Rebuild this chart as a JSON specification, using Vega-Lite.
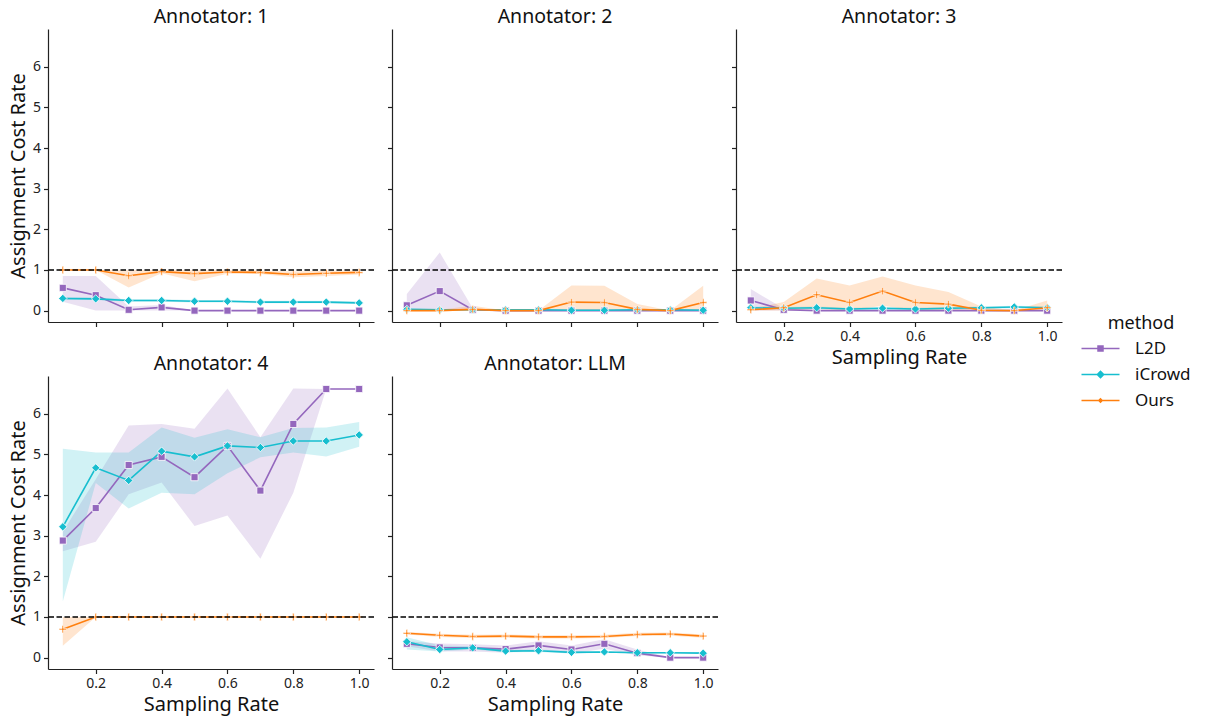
{
"$schema": "https://vega.github.io/schema/vega-lite/v6.json",
"padding": {"left": 8, "top": 6, "right": 5, "bottom": 5},
"background": "white",
"datasets": {
"d": [
{"a":"1","m":"L2D","x":0.1,"y":0.56,"lo":0.22,"hi":0.85},
{"a":"1","m":"L2D","x":0.2,"y":0.38,"lo":0,"hi":0.85},
{"a":"1","m":"L2D","x":0.3,"y":0.02,"lo":0,"hi":0.1},
{"a":"1","m":"L2D","x":0.4,"y":0.08,"lo":0,"hi":0.14},
{"a":"1","m":"L2D","x":0.5,"y":0,"lo":0,"hi":0},
{"a":"1","m":"L2D","x":0.6,"y":0,"lo":0,"hi":0},
{"a":"1","m":"L2D","x":0.7,"y":0,"lo":0,"hi":0},
{"a":"1","m":"L2D","x":0.8,"y":0,"lo":0,"hi":0},
{"a":"1","m":"L2D","x":0.9,"y":0,"lo":0,"hi":0},
{"a":"1","m":"L2D","x":1.0,"y":0,"lo":0,"hi":0},
{"a":"1","m":"iCrowd","x":0.1,"y":0.30,"lo":0.27,"hi":0.33},
{"a":"1","m":"iCrowd","x":0.2,"y":0.29,"lo":0.26,"hi":0.32},
{"a":"1","m":"iCrowd","x":0.3,"y":0.25,"lo":0.22,"hi":0.28},
{"a":"1","m":"iCrowd","x":0.4,"y":0.25,"lo":0.22,"hi":0.28},
{"a":"1","m":"iCrowd","x":0.5,"y":0.23,"lo":0.20,"hi":0.26},
{"a":"1","m":"iCrowd","x":0.6,"y":0.23,"lo":0.20,"hi":0.26},
{"a":"1","m":"iCrowd","x":0.7,"y":0.21,"lo":0.18,"hi":0.24},
{"a":"1","m":"iCrowd","x":0.8,"y":0.21,"lo":0.18,"hi":0.24},
{"a":"1","m":"iCrowd","x":0.9,"y":0.21,"lo":0.18,"hi":0.24},
{"a":"1","m":"iCrowd","x":1.0,"y":0.19,"lo":0.16,"hi":0.22},
{"a":"1","m":"Ours","x":0.1,"y":1.0,"lo":1.0,"hi":1.0},
{"a":"1","m":"Ours","x":0.2,"y":1.0,"lo":1.0,"hi":1.0},
{"a":"1","m":"Ours","x":0.3,"y":0.86,"lo":0.57,"hi":1.0},
{"a":"1","m":"Ours","x":0.4,"y":0.96,"lo":0.92,"hi":1.0},
{"a":"1","m":"Ours","x":0.5,"y":0.91,"lo":0.72,"hi":1.0},
{"a":"1","m":"Ours","x":0.6,"y":0.95,"lo":0.91,"hi":1.0},
{"a":"1","m":"Ours","x":0.7,"y":0.94,"lo":0.90,"hi":0.98},
{"a":"1","m":"Ours","x":0.8,"y":0.89,"lo":0.82,"hi":0.96},
{"a":"1","m":"Ours","x":0.9,"y":0.92,"lo":0.85,"hi":0.98},
{"a":"1","m":"Ours","x":1.0,"y":0.94,"lo":0.89,"hi":0.99},
{"a":"2","m":"L2D","x":0.1,"y":0.13,"lo":0,"hi":0.41},
{"a":"2","m":"L2D","x":0.2,"y":0.48,"lo":0,"hi":1.43},
{"a":"2","m":"L2D","x":0.3,"y":0.02,"lo":0,"hi":0.06},
{"a":"2","m":"L2D","x":0.4,"y":0,"lo":0,"hi":0},
{"a":"2","m":"L2D","x":0.5,"y":0,"lo":0,"hi":0},
{"a":"2","m":"L2D","x":0.6,"y":0,"lo":0,"hi":0},
{"a":"2","m":"L2D","x":0.7,"y":0,"lo":0,"hi":0},
{"a":"2","m":"L2D","x":0.8,"y":0,"lo":0,"hi":0},
{"a":"2","m":"L2D","x":0.9,"y":0,"lo":0,"hi":0},
{"a":"2","m":"L2D","x":1.0,"y":0,"lo":0,"hi":0},
{"a":"2","m":"iCrowd","x":0.1,"y":0.03,"lo":0.01,"hi":0.05},
{"a":"2","m":"iCrowd","x":0.2,"y":0.02,"lo":0,"hi":0.04},
{"a":"2","m":"iCrowd","x":0.3,"y":0.02,"lo":0,"hi":0.04},
{"a":"2","m":"iCrowd","x":0.4,"y":0.02,"lo":0,"hi":0.04},
{"a":"2","m":"iCrowd","x":0.5,"y":0.02,"lo":0,"hi":0.04},
{"a":"2","m":"iCrowd","x":0.6,"y":0.01,"lo":0,"hi":0.03},
{"a":"2","m":"iCrowd","x":0.7,"y":0.01,"lo":0,"hi":0.03},
{"a":"2","m":"iCrowd","x":0.8,"y":0.02,"lo":0,"hi":0.04},
{"a":"2","m":"iCrowd","x":0.9,"y":0.02,"lo":0,"hi":0.04},
{"a":"2","m":"iCrowd","x":1.0,"y":0.01,"lo":0,"hi":0.03},
{"a":"2","m":"Ours","x":0.1,"y":0,"lo":0,"hi":0.02},
{"a":"2","m":"Ours","x":0.2,"y":0,"lo":0,"hi":0.02},
{"a":"2","m":"Ours","x":0.3,"y":0.03,"lo":0,"hi":0.12},
{"a":"2","m":"Ours","x":0.4,"y":0,"lo":0,"hi":0},
{"a":"2","m":"Ours","x":0.5,"y":0,"lo":0,"hi":0},
{"a":"2","m":"Ours","x":0.6,"y":0.21,"lo":0,"hi":0.62},
{"a":"2","m":"Ours","x":0.7,"y":0.2,"lo":0,"hi":0.61},
{"a":"2","m":"Ours","x":0.8,"y":0.03,"lo":0,"hi":0.16},
{"a":"2","m":"Ours","x":0.9,"y":0,"lo":0,"hi":0},
{"a":"2","m":"Ours","x":1.0,"y":0.2,"lo":0,"hi":0.61},
{"a":"3","m":"L2D","x":0.1,"y":0.25,"lo":0,"hi":0.53},
{"a":"3","m":"L2D","x":0.2,"y":0.02,"lo":0,"hi":0.05},
{"a":"3","m":"L2D","x":0.3,"y":0,"lo":0,"hi":0},
{"a":"3","m":"L2D","x":0.4,"y":0,"lo":0,"hi":0},
{"a":"3","m":"L2D","x":0.5,"y":0,"lo":0,"hi":0},
{"a":"3","m":"L2D","x":0.6,"y":0,"lo":0,"hi":0},
{"a":"3","m":"L2D","x":0.7,"y":0,"lo":0,"hi":0},
{"a":"3","m":"L2D","x":0.8,"y":0,"lo":0,"hi":0},
{"a":"3","m":"L2D","x":0.9,"y":0,"lo":0,"hi":0},
{"a":"3","m":"L2D","x":1.0,"y":0,"lo":0,"hi":0},
{"a":"3","m":"iCrowd","x":0.1,"y":0.07,"lo":0.04,"hi":0.1},
{"a":"3","m":"iCrowd","x":0.2,"y":0.06,"lo":0.03,"hi":0.09},
{"a":"3","m":"iCrowd","x":0.3,"y":0.07,"lo":0.04,"hi":0.1},
{"a":"3","m":"iCrowd","x":0.4,"y":0.04,"lo":0.01,"hi":0.07},
{"a":"3","m":"iCrowd","x":0.5,"y":0.06,"lo":0.03,"hi":0.09},
{"a":"3","m":"iCrowd","x":0.6,"y":0.04,"lo":0.01,"hi":0.07},
{"a":"3","m":"iCrowd","x":0.7,"y":0.06,"lo":0.03,"hi":0.09},
{"a":"3","m":"iCrowd","x":0.8,"y":0.07,"lo":0.04,"hi":0.1},
{"a":"3","m":"iCrowd","x":0.9,"y":0.09,"lo":0.06,"hi":0.12},
{"a":"3","m":"iCrowd","x":1.0,"y":0.07,"lo":0.04,"hi":0.1},
{"a":"3","m":"Ours","x":0.1,"y":0.02,"lo":0,"hi":0.05},
{"a":"3","m":"Ours","x":0.2,"y":0.07,"lo":0,"hi":0.21},
{"a":"3","m":"Ours","x":0.3,"y":0.39,"lo":0.04,"hi":0.79},
{"a":"3","m":"Ours","x":0.4,"y":0.2,"lo":0,"hi":0.62},
{"a":"3","m":"Ours","x":0.5,"y":0.48,"lo":0.12,"hi":0.84},
{"a":"3","m":"Ours","x":0.6,"y":0.2,"lo":0,"hi":0.62},
{"a":"3","m":"Ours","x":0.7,"y":0.16,"lo":0,"hi":0.46},
{"a":"3","m":"Ours","x":0.8,"y":0.01,"lo":0,"hi":0.1},
{"a":"3","m":"Ours","x":0.9,"y":0,"lo":0,"hi":0},
{"a":"3","m":"Ours","x":1.0,"y":0.07,"lo":0,"hi":0.25},
{"a":"4","m":"L2D","x":0.1,"y":2.88,"lo":2.62,"hi":3.1},
{"a":"4","m":"L2D","x":0.2,"y":3.68,"lo":2.85,"hi":4.39},
{"a":"4","m":"L2D","x":0.3,"y":4.74,"lo":4.02,"hi":5.71},
{"a":"4","m":"L2D","x":0.4,"y":4.94,"lo":4.31,"hi":5.75},
{"a":"4","m":"L2D","x":0.5,"y":4.44,"lo":3.24,"hi":5.63},
{"a":"4","m":"L2D","x":0.6,"y":5.21,"lo":3.5,"hi":6.62},
{"a":"4","m":"L2D","x":0.7,"y":4.11,"lo":2.43,"hi":5.42},
{"a":"4","m":"L2D","x":0.8,"y":5.75,"lo":4.06,"hi":6.62},
{"a":"4","m":"L2D","x":0.9,"y":6.61,"lo":6.61,"hi":6.61},
{"a":"4","m":"L2D","x":1.0,"y":6.61,"lo":6.61,"hi":6.61},
{"a":"4","m":"iCrowd","x":0.1,"y":3.22,"lo":1.38,"hi":5.14},
{"a":"4","m":"iCrowd","x":0.2,"y":4.67,"lo":4.3,"hi":5.05},
{"a":"4","m":"iCrowd","x":0.3,"y":4.36,"lo":3.67,"hi":5.05},
{"a":"4","m":"iCrowd","x":0.4,"y":5.08,"lo":4.06,"hi":5.66},
{"a":"4","m":"iCrowd","x":0.5,"y":4.94,"lo":4.02,"hi":5.41},
{"a":"4","m":"iCrowd","x":0.6,"y":5.21,"lo":4.54,"hi":5.62},
{"a":"4","m":"iCrowd","x":0.7,"y":5.17,"lo":4.93,"hi":5.42},
{"a":"4","m":"iCrowd","x":0.8,"y":5.33,"lo":5.05,"hi":5.65},
{"a":"4","m":"iCrowd","x":0.9,"y":5.33,"lo":4.95,"hi":5.66},
{"a":"4","m":"iCrowd","x":1.0,"y":5.48,"lo":5.19,"hi":5.8},
{"a":"4","m":"Ours","x":0.1,"y":0.7,"lo":0.29,"hi":1.0},
{"a":"4","m":"Ours","x":0.2,"y":1.0,"lo":1.0,"hi":1.0},
{"a":"4","m":"Ours","x":0.3,"y":1.0,"lo":1.0,"hi":1.0},
{"a":"4","m":"Ours","x":0.4,"y":1.0,"lo":1.0,"hi":1.0},
{"a":"4","m":"Ours","x":0.5,"y":1.0,"lo":1.0,"hi":1.0},
{"a":"4","m":"Ours","x":0.6,"y":1.0,"lo":1.0,"hi":1.0},
{"a":"4","m":"Ours","x":0.7,"y":1.0,"lo":1.0,"hi":1.0},
{"a":"4","m":"Ours","x":0.8,"y":1.0,"lo":1.0,"hi":1.0},
{"a":"4","m":"Ours","x":0.9,"y":1.0,"lo":1.0,"hi":1.0},
{"a":"4","m":"Ours","x":1.0,"y":1.0,"lo":1.0,"hi":1.0},
{"a":"LLM","m":"L2D","x":0.1,"y":0.34,"lo":0.28,"hi":0.4},
{"a":"LLM","m":"L2D","x":0.2,"y":0.25,"lo":0.15,"hi":0.35},
{"a":"LLM","m":"L2D","x":0.3,"y":0.24,"lo":0.15,"hi":0.33},
{"a":"LLM","m":"L2D","x":0.4,"y":0.21,"lo":0.12,"hi":0.3},
{"a":"LLM","m":"L2D","x":0.5,"y":0.3,"lo":0.2,"hi":0.4},
{"a":"LLM","m":"L2D","x":0.6,"y":0.2,"lo":0.1,"hi":0.3},
{"a":"LLM","m":"L2D","x":0.7,"y":0.34,"lo":0.22,"hi":0.45},
{"a":"LLM","m":"L2D","x":0.8,"y":0.11,"lo":0.05,"hi":0.2},
{"a":"LLM","m":"L2D","x":0.9,"y":0,"lo":0,"hi":0},
{"a":"LLM","m":"L2D","x":1.0,"y":0,"lo":0,"hi":0},
{"a":"LLM","m":"iCrowd","x":0.1,"y":0.39,"lo":0.2,"hi":0.5},
{"a":"LLM","m":"iCrowd","x":0.2,"y":0.2,"lo":0.15,"hi":0.3},
{"a":"LLM","m":"iCrowd","x":0.3,"y":0.24,"lo":0.2,"hi":0.28},
{"a":"LLM","m":"iCrowd","x":0.4,"y":0.16,"lo":0.13,"hi":0.19},
{"a":"LLM","m":"iCrowd","x":0.5,"y":0.17,"lo":0.14,"hi":0.2},
{"a":"LLM","m":"iCrowd","x":0.6,"y":0.13,"lo":0.1,"hi":0.16},
{"a":"LLM","m":"iCrowd","x":0.7,"y":0.14,"lo":0.12,"hi":0.16},
{"a":"LLM","m":"iCrowd","x":0.8,"y":0.12,"lo":0.1,"hi":0.14},
{"a":"LLM","m":"iCrowd","x":0.9,"y":0.12,"lo":0.1,"hi":0.14},
{"a":"LLM","m":"iCrowd","x":1.0,"y":0.11,"lo":0.09,"hi":0.13},
{"a":"LLM","m":"Ours","x":0.1,"y":0.6,"lo":0.57,"hi":0.63},
{"a":"LLM","m":"Ours","x":0.2,"y":0.55,"lo":0.51,"hi":0.59},
{"a":"LLM","m":"Ours","x":0.3,"y":0.52,"lo":0.48,"hi":0.56},
{"a":"LLM","m":"Ours","x":0.4,"y":0.53,"lo":0.49,"hi":0.57},
{"a":"LLM","m":"Ours","x":0.5,"y":0.51,"lo":0.47,"hi":0.55},
{"a":"LLM","m":"Ours","x":0.6,"y":0.51,"lo":0.47,"hi":0.55},
{"a":"LLM","m":"Ours","x":0.7,"y":0.52,"lo":0.48,"hi":0.56},
{"a":"LLM","m":"Ours","x":0.8,"y":0.57,"lo":0.53,"hi":0.61},
{"a":"LLM","m":"Ours","x":0.9,"y":0.58,"lo":0.54,"hi":0.62},
{"a":"LLM","m":"Ours","x":1.0,"y":0.53,"lo":0.49,"hi":0.57}
],
"one": [{"k": 1}]
},
"columns": 3,
"spacing": {"row": 54, "column": 18},
"bounds": "flush",
"concat": [
{"width": 326, "height": 293, "title": "Annotator: 1",
 "layer": [
  {"data": {"name": "d"}, "transform": [{"filter": "datum.a === '1'"}],
   "encoding": {
   "x": {"field": "x", "type": "quantitative", "scale": {"domain": [0.055, 1.045], "nice": false, "zero": false}, "axis": {"values": [0.2,0.4,0.6,0.8,1.0], "labels": false, "title": null}},
   "y": {"field": "y", "type": "quantitative", "scale": {"domain": [-0.28, 6.93], "nice": false, "zero": false}, "axis": {"values": [0,1,2,3,4,5,6], "format": "d", "title": "Assignment Cost Rate"}},
   "color": {"field": "m", "type": "nominal", "scale": {"domain": ["L2D","iCrowd","Ours"], "range": ["#9467bd","#17becf","#ff7f0e"]}, "title": "method",
     "legend": {"symbolOpacity": 1, "encode": {"symbols": {"update": {
        "shape": {"signal": "datum.value === 'L2D' ? 'M-3.8,-0.15H3.8V0.15H-3.8Z M-0.65,-0.65H0.65V0.65H-0.65Z' : datum.value === 'iCrowd' ? 'M-3.8,-0.15H3.8V0.15H-3.8Z M0,-0.85L0.85,0L0,0.85L-0.85,0Z' : 'M-3.8,-0.15H3.8V0.15H-3.8Z M0,-0.55L0.55,0L0,0.55L-0.55,0Z'"},
        "fill": {"signal": "datum.value === 'L2D' ? '#9467bd' : datum.value === 'iCrowd' ? '#17becf' : '#ff7f0e'"},
        "fillOpacity": {"value": 1}, "opacity": {"value": 1}, "strokeWidth": {"value": 0}, "stroke": {"value": "transparent"}}}}}}},
   "layer": [
    {"mark": {"type": "area", "opacity": 0.2}, "encoding": {"y": {"field": "lo", "type": "quantitative"}, "y2": {"field": "hi"}}},
    {"mark": {"type": "line", "strokeWidth": 1.6}},
    {"transform": [{"filter": "datum.m === 'L2D'"}], "mark": {"type": "point", "shape": "square", "filled": true, "opacity": 1, "stroke": "white", "strokeWidth": 0.8, "size": 50}},
    {"transform": [{"filter": "datum.m === 'iCrowd'"}], "mark": {"type": "point", "shape": "diamond", "filled": true, "opacity": 1, "stroke": "white", "strokeWidth": 0.8, "size": 70}},
    {"transform": [{"filter": "datum.m === 'Ours'"}], "mark": {"type": "point", "shape": "M-0.2,-1H0.2V-0.2H1V0.2H0.2V1H-0.2V0.2H-1V-0.2H-0.2Z", "filled": true, "opacity": 1, "stroke": "white", "strokeWidth": 0.6, "size": 55}}
   ]},
  {"data": {"name": "one"}, "mark": {"type": "rule", "color": "black", "strokeWidth": 1.5, "strokeDash": [5.5, 2.5]}, "encoding": {"y": {"datum": 1, "type": "quantitative", "axis": {"values": [0,1,2,3,4,5,6], "format": "d", "title": "Assignment Cost Rate"}}}}
 ]},
{"width": 326, "height": 293, "title": "Annotator: 2",
 "layer": [
  {"data": {"name": "d"}, "transform": [{"filter": "datum.a === '2'"}],
   "encoding": {
   "x": {"field": "x", "type": "quantitative", "scale": {"domain": [0.055, 1.045], "nice": false, "zero": false}, "axis": {"values": [0.2,0.4,0.6,0.8,1.0], "labels": false, "title": null}},
   "y": {"field": "y", "type": "quantitative", "scale": {"domain": [-0.28, 6.93], "nice": false, "zero": false}, "axis": {"values": [0,1,2,3,4,5,6], "labels": false, "title": null}},
   "color": {"field": "m", "type": "nominal", "title": "method"}},
   "layer": [
    {"mark": {"type": "area", "opacity": 0.2}, "encoding": {"y": {"field": "lo", "type": "quantitative"}, "y2": {"field": "hi"}}},
    {"mark": {"type": "line", "strokeWidth": 1.6}},
    {"transform": [{"filter": "datum.m === 'L2D'"}], "mark": {"type": "point", "shape": "square", "filled": true, "opacity": 1, "stroke": "white", "strokeWidth": 0.8, "size": 50}},
    {"transform": [{"filter": "datum.m === 'iCrowd'"}], "mark": {"type": "point", "shape": "diamond", "filled": true, "opacity": 1, "stroke": "white", "strokeWidth": 0.8, "size": 70}},
    {"transform": [{"filter": "datum.m === 'Ours'"}], "mark": {"type": "point", "shape": "M-0.2,-1H0.2V-0.2H1V0.2H0.2V1H-0.2V0.2H-1V-0.2H-0.2Z", "filled": true, "opacity": 1, "stroke": "white", "strokeWidth": 0.6, "size": 55}}
   ]},
  {"data": {"name": "one"}, "mark": {"type": "rule", "color": "black", "strokeWidth": 1.5, "strokeDash": [5.5, 2.5]}, "encoding": {"y": {"datum": 1, "type": "quantitative", "axis": {"values": [0,1,2,3,4,5,6], "labels": false, "title": null}}}}
 ]},
{"width": 326, "height": 293, "title": "Annotator: 3",
 "layer": [
  {"data": {"name": "d"}, "transform": [{"filter": "datum.a === '3'"}],
   "encoding": {
   "x": {"field": "x", "type": "quantitative", "scale": {"domain": [0.055, 1.045], "nice": false, "zero": false}, "axis": {"values": [0.2,0.4,0.6,0.8,1.0], "format": ".1f", "title": "Sampling Rate"}},
   "y": {"field": "y", "type": "quantitative", "scale": {"domain": [-0.28, 6.93], "nice": false, "zero": false}, "axis": {"values": [0,1,2,3,4,5,6], "labels": false, "title": null}},
   "color": {"field": "m", "type": "nominal", "title": "method"}},
   "layer": [
    {"mark": {"type": "area", "opacity": 0.2}, "encoding": {"y": {"field": "lo", "type": "quantitative"}, "y2": {"field": "hi"}}},
    {"mark": {"type": "line", "strokeWidth": 1.6}},
    {"transform": [{"filter": "datum.m === 'L2D'"}], "mark": {"type": "point", "shape": "square", "filled": true, "opacity": 1, "stroke": "white", "strokeWidth": 0.8, "size": 50}},
    {"transform": [{"filter": "datum.m === 'iCrowd'"}], "mark": {"type": "point", "shape": "diamond", "filled": true, "opacity": 1, "stroke": "white", "strokeWidth": 0.8, "size": 70}},
    {"transform": [{"filter": "datum.m === 'Ours'"}], "mark": {"type": "point", "shape": "M-0.2,-1H0.2V-0.2H1V0.2H0.2V1H-0.2V0.2H-1V-0.2H-0.2Z", "filled": true, "opacity": 1, "stroke": "white", "strokeWidth": 0.6, "size": 55}}
   ]},
  {"data": {"name": "one"}, "mark": {"type": "rule", "color": "black", "strokeWidth": 1.5, "strokeDash": [5.5, 2.5]}, "encoding": {"y": {"datum": 1, "type": "quantitative", "axis": {"values": [0,1,2,3,4,5,6], "labels": false, "title": null}}}}
 ]},
{"width": 326, "height": 293, "title": "Annotator: 4",
 "layer": [
  {"data": {"name": "d"}, "transform": [{"filter": "datum.a === '4'"}],
   "encoding": {
   "x": {"field": "x", "type": "quantitative", "scale": {"domain": [0.055, 1.045], "nice": false, "zero": false}, "axis": {"values": [0.2,0.4,0.6,0.8,1.0], "format": ".1f", "title": "Sampling Rate"}},
   "y": {"field": "y", "type": "quantitative", "scale": {"domain": [-0.28, 6.93], "nice": false, "zero": false}, "axis": {"values": [0,1,2,3,4,5,6], "format": "d", "title": "Assignment Cost Rate"}},
   "color": {"field": "m", "type": "nominal", "title": "method"}},
   "layer": [
    {"mark": {"type": "area", "opacity": 0.2}, "encoding": {"y": {"field": "lo", "type": "quantitative"}, "y2": {"field": "hi"}}},
    {"mark": {"type": "line", "strokeWidth": 1.6}},
    {"transform": [{"filter": "datum.m === 'L2D'"}], "mark": {"type": "point", "shape": "square", "filled": true, "opacity": 1, "stroke": "white", "strokeWidth": 0.8, "size": 50}},
    {"transform": [{"filter": "datum.m === 'iCrowd'"}], "mark": {"type": "point", "shape": "diamond", "filled": true, "opacity": 1, "stroke": "white", "strokeWidth": 0.8, "size": 70}},
    {"transform": [{"filter": "datum.m === 'Ours'"}], "mark": {"type": "point", "shape": "M-0.2,-1H0.2V-0.2H1V0.2H0.2V1H-0.2V0.2H-1V-0.2H-0.2Z", "filled": true, "opacity": 1, "stroke": "white", "strokeWidth": 0.6, "size": 55}}
   ]},
  {"data": {"name": "one"}, "mark": {"type": "rule", "color": "black", "strokeWidth": 1.5, "strokeDash": [5.5, 2.5]}, "encoding": {"y": {"datum": 1, "type": "quantitative", "axis": {"values": [0,1,2,3,4,5,6], "format": "d", "title": "Assignment Cost Rate"}}}}
 ]},
{"width": 326, "height": 293, "title": "Annotator: LLM",
 "layer": [
  {"data": {"name": "d"}, "transform": [{"filter": "datum.a === 'LLM'"}],
   "encoding": {
   "x": {"field": "x", "type": "quantitative", "scale": {"domain": [0.055, 1.045], "nice": false, "zero": false}, "axis": {"values": [0.2,0.4,0.6,0.8,1.0], "format": ".1f", "title": "Sampling Rate"}},
   "y": {"field": "y", "type": "quantitative", "scale": {"domain": [-0.28, 6.93], "nice": false, "zero": false}, "axis": {"values": [0,1,2,3,4,5,6], "labels": false, "title": null}},
   "color": {"field": "m", "type": "nominal", "title": "method"}},
   "layer": [
    {"mark": {"type": "area", "opacity": 0.2}, "encoding": {"y": {"field": "lo", "type": "quantitative"}, "y2": {"field": "hi"}}},
    {"mark": {"type": "line", "strokeWidth": 1.6}},
    {"transform": [{"filter": "datum.m === 'L2D'"}], "mark": {"type": "point", "shape": "square", "filled": true, "opacity": 1, "stroke": "white", "strokeWidth": 0.8, "size": 50}},
    {"transform": [{"filter": "datum.m === 'iCrowd'"}], "mark": {"type": "point", "shape": "diamond", "filled": true, "opacity": 1, "stroke": "white", "strokeWidth": 0.8, "size": 70}},
    {"transform": [{"filter": "datum.m === 'Ours'"}], "mark": {"type": "point", "shape": "M-0.2,-1H0.2V-0.2H1V0.2H0.2V1H-0.2V0.2H-1V-0.2H-0.2Z", "filled": true, "opacity": 1, "stroke": "white", "strokeWidth": 0.6, "size": 55}}
   ]},
  {"data": {"name": "one"}, "mark": {"type": "rule", "color": "black", "strokeWidth": 1.5, "strokeDash": [5.5, 2.5]}, "encoding": {"y": {"datum": 1, "type": "quantitative", "axis": {"values": [0,1,2,3,4,5,6], "labels": false, "title": null}}}}
 ]}
],
"config": {
  "font": "Noto Sans",
  "view": {"stroke": null},
  "axis": {"grid": false, "domainColor": "#222222", "domainWidth": 1.2, "tickColor": "#222222", "tickWidth": 1.2, "tickSize": 4.5, "labelFontSize": 14, "labelColor": "#222222", "labelPadding": 3, "titleFontSize": 20, "titleFontWeight": "normal", "titleColor": "#111111", "titlePadding": 4},
  "title": {"fontSize": 19.5, "fontWeight": "normal", "color": "#111111", "offset": 2},
  "legend": {"orient": "none", "legendX": 1044, "legendY": 286, "titleFontSize": 18, "titleFontWeight": "normal", "titleColor": "#111111", "labelFontSize": 17, "labelColor": "#111111", "symbolSize": 100, "symbolStrokeWidth": 0, "labelOffset": 26, "rowPadding": 8, "titlePadding": 7, "titleAnchor": "middle"}
}
}
